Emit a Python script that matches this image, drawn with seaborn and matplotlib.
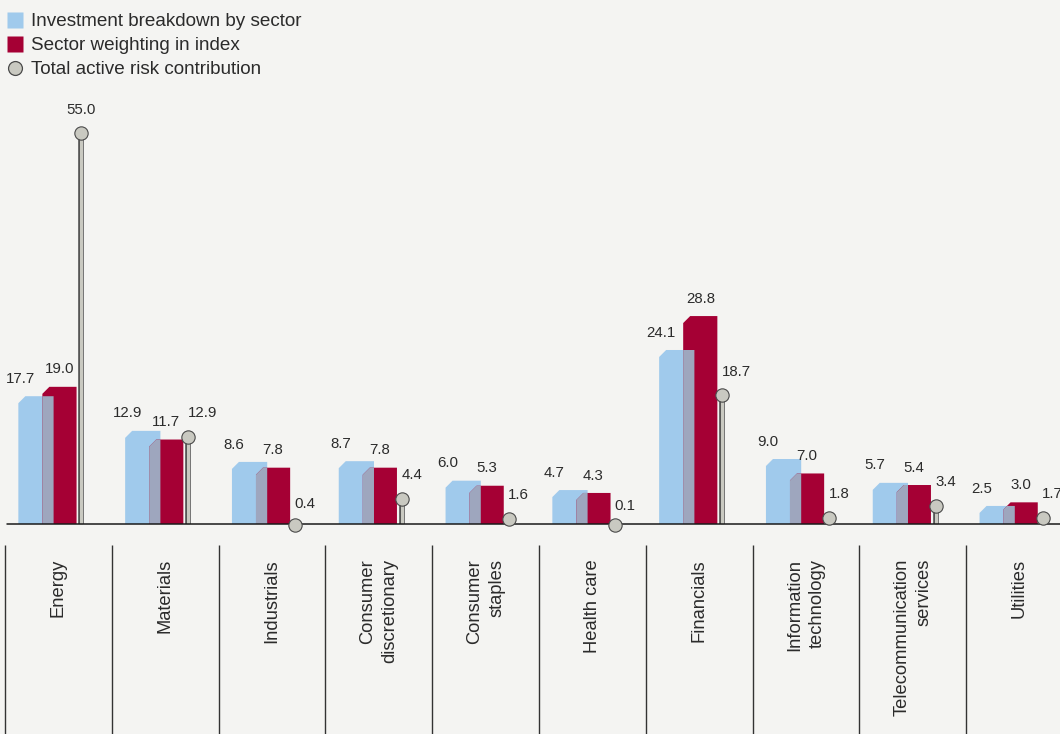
import numpy as np
import pandas as pd
import matplotlib
matplotlib.use("Agg")
import matplotlib.pyplot as plt
import seaborn as sns
from matplotlib.patches import Polygon
from matplotlib.lines import Line2D

# ---------------- data ----------------
sectors = ["Energy", "Materials", "Industrials", "Consumer\ndiscretionary",
           "Consumer\nstaples", "Health care", "Financials",
           "Information\ntechnology", "Telecommunication\nservices", "Utilities"]
investment = [17.7, 12.9, 8.6, 8.7, 6.0, 4.7, 24.1, 9.0, 5.7, 2.5]
index_weight = [19.0, 11.7, 7.8, 7.8, 5.3, 4.3, 28.8, 7.0, 5.4, 3.0]
risk = [55.0, 12.9, 0.4, 4.4, 1.6, 0.1, 18.7, 1.8, 3.4, 1.7]
legend_labels = ["Investment breakdown by sector", "Sector weighting in index",
                 "Total active risk contribution"]

# ---------------- style ----------------
BG = "#f4f4f2"
BLUE = "#a0caec"
RED = "#a50034"
OVER = "#9ea6be"
LOLLI = "#c9c9c1"
EDGE = "#4a4a4a"
TXT = "#2b2b2b"

sns.set_theme(style="white")
plt.rcParams["font.family"] = ["Liberation Sans", "DejaVu Sans"]

W, H = 1060, 734
PX_X = 106.8   # pixels per category
PX_Y = 7.22    # pixels per value unit
BASE_PX = 524
LEFT_PX = 5

fig = plt.figure(figsize=(W / 100, H / 100), dpi=100, facecolor=BG)
ax = fig.add_axes([LEFT_PX / W, 0, 10 * PX_X / W, 1])
ax.set_facecolor(BG)

n = len(sectors)
pos = np.arange(n)
df = pd.DataFrame({"pos": pos, "investment": investment,
                   "index": index_weight, "risk": risk})

BLUE_OFF, RED_OFF, LOLLI_OFF = 0.29, 0.51, 0.715

sns.barplot(x=df["pos"] + BLUE_OFF, y=df["investment"], native_scale=True,
            width=0.33, color=BLUE, saturation=1, errorbar=None, orient="x",
            ax=ax, linewidth=0)
blue_rects = list(ax.patches)
sns.barplot(x=df["pos"] + RED_OFF, y=df["index"], native_scale=True,
            width=0.32, color=RED, saturation=1, errorbar=None, orient="x",
            ax=ax, linewidth=0)
red_rects = list(ax.patches)[len(blue_rects):]

DX = 7 / PX_X
DY = 7 / PX_Y


def bevel(r):
    x0, w, h = r.get_x(), r.get_width(), r.get_height()
    d = min(DY, h * 0.5)
    return [(x0, 0), (x0, h - d), (x0 + DX, h), (x0 + w, h), (x0 + w, 0)]


for b, r in zip(blue_rects, red_rects):
    b.set_visible(False)
    r.set_visible(False)
    bp = Polygon(bevel(b), closed=True, fc=BLUE, ec="none", zorder=2)
    ax.add_patch(bp)
    rp = Polygon(bevel(r), closed=True, fc=RED, ec="none", zorder=3)
    ax.add_patch(rp)
    gp = Polygon(bevel(r), closed=True, fc=OVER, ec="none", zorder=4)
    ax.add_patch(gp)
    gp.set_clip_path(bp)

# lollipops
R = 6.5 / PX_Y
lx = df["pos"] + LOLLI_OFF
centers = np.maximum(df["risk"] - R, -0.12)
ax.vlines(lx, 0, centers, color=EDGE, lw=4.0, zorder=5, capstyle="butt")
ax.vlines(lx, 0, centers, color=LOLLI, lw=2.3, zorder=5.5, capstyle="butt")
ax.axhline(0, xmin=2 / (10 * PX_X), xmax=1, color="#1a1a1a", lw=1.1, zorder=6)
sns.scatterplot(x=lx, y=centers, s=92, color=LOLLI, edgecolor=EDGE,
                linewidth=0.8, zorder=7, ax=ax, legend=False)

# value labels
LAB = 13.4 / PX_Y
for i in range(n):
    b, r = blue_rects[i], red_rects[i]
    ax.text(b.get_x() + 0.02, investment[i] + LAB, f"{investment[i]:.1f}",
            ha="center", va="baseline", fontsize=10.8, color=TXT)
    ax.text(r.get_x() + r.get_width() / 2, index_weight[i] + LAB,
            f"{index_weight[i]:.1f}", ha="center", va="baseline",
            fontsize=10.8, color=TXT)
    tall = risk[i] > max(investment[i], index_weight[i]) + 10
    ax.text(lx[i] + (0 if tall else -0.005), risk[i] + LAB, f"{risk[i]:.1f}",
            ha="center" if tall else "left", va="baseline", fontsize=10.8,
            color=TXT)

# category area: dividers and rotated labels
y_div_top = -(545 - BASE_PX) / PX_Y
y_bottom = -(H - BASE_PX) / PX_Y
y_lab_top = -(559 - BASE_PX) / PX_Y
for i in range(n):
    ax.plot([i, i], [y_div_top, y_bottom], color="#333333", lw=1.0,
            clip_on=False, zorder=3, solid_capstyle="butt")
    ax.text(i + 0.5, y_lab_top, sectors[i], rotation=90, ha="center",
            va="top", multialignment="right", fontsize=13.2, color=TXT,
            linespacing=1.4)

ax.set_xlim(0, 10)
ax.set_ylim(y_bottom, BASE_PX / PX_Y)
ax.set_xlabel("")
ax.set_ylabel("")
ax.set_xticks([])
ax.set_yticks([])
for s in ax.spines.values():
    s.set_visible(False)

# legend
handles = [
    Line2D([], [], ls="", marker="s", markersize=11.5, mfc=BLUE, mec="none"),
    Line2D([], [], ls="", marker="s", markersize=11.5, mfc=RED, mec="none"),
    Line2D([], [], ls="", marker="o", markersize=10, mfc=LOLLI, mec=EDGE,
           mew=0.9),
]
fig.legend(handles, legend_labels, loc="upper left",
           bbox_to_anchor=(7 / W, 1 - 13 / H), bbox_transform=fig.transFigure,
           frameon=False, fontsize=13.6, handlelength=0.85,
           handletextpad=0.43, labelspacing=0.36, borderpad=0,
           borderaxespad=0, labelcolor=TXT)

fig.savefig("out.png", dpi=100, facecolor=BG)
